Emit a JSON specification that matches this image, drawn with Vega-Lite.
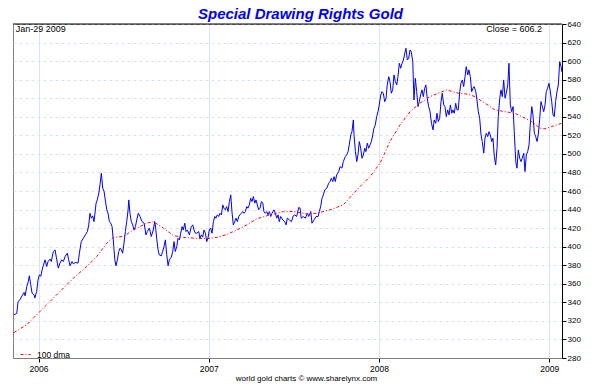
{
"$schema": "https://vega.github.io/schema/vega-lite/v6.json",
"width": 549, "height": 334,
"autosize": {"type": "none"},
"padding": {"left": 13, "top": 24, "right": 38, "bottom": 32},
"background": "white",
"title": {"text": "Special Drawing Rights Gold", "font": "Liberation Sans", "fontSize": 15, "fontWeight": "bold", "fontStyle": "italic", "color": "#0000ff", "anchor": "middle", "frame": "group", "dx": 13, "dy": 17, "offset": 3, "baseline": "alphabetic"},
"config": {"view": {"stroke": "#808080", "strokeWidth": 1}, "font": "Liberation Sans", "axis": {"labelOverlap": false}},
"datasets": {
"gold": [
{"t":2005.856,"v":326.6},{"t":2005.872,"v":328},{"t":2005.880,"v":341},{"t":2005.891,"v":342.7},{"t":2005.903,"v":347},{"t":2005.915,"v":350.6},{"t":2005.921,"v":347},{"t":2005.931,"v":357},{"t":2005.940,"v":362.5},{"t":2005.946,"v":368.6},{"t":2005.954,"v":359},{"t":2005.962,"v":350},{"t":2005.974,"v":348},{"t":2005.978,"v":344.6},{"t":2005.989,"v":351.7},{"t":2005.997,"v":364},{"t":2006.005,"v":369.7},{"t":2006.013,"v":368},{"t":2006.021,"v":375},{"t":2006.028,"v":379.4},{"t":2006.038,"v":385.8},{"t":2006.048,"v":378.6},{"t":2006.056,"v":384},{"t":2006.068,"v":386.6},{"t":2006.075,"v":384},{"t":2006.087,"v":394.8},{"t":2006.097,"v":396.6},{"t":2006.107,"v":385.8},{"t":2006.116,"v":376.9},{"t":2006.126,"v":382.3},{"t":2006.136,"v":385.8},{"t":2006.146,"v":384},{"t":2006.156,"v":389.4},{"t":2006.169,"v":393},{"t":2006.177,"v":385.8},{"t":2006.185,"v":379.4},{"t":2006.197,"v":384},{"t":2006.204,"v":381.5},{"t":2006.216,"v":383},{"t":2006.232,"v":382.3},{"t":2006.240,"v":393},{"t":2006.251,"v":405.5},{"t":2006.263,"v":409},{"t":2006.275,"v":412.7},{"t":2006.287,"v":416.3},{"t":2006.295,"v":423.5},{"t":2006.302,"v":436},{"t":2006.310,"v":430.7},{"t":2006.318,"v":433.2},{"t":2006.326,"v":427},{"t":2006.338,"v":446.9},{"t":2006.345,"v":450.4},{"t":2006.354,"v":457.7},{"t":2006.361,"v":466.6},{"t":2006.369,"v":479.2},{"t":2006.377,"v":463},{"t":2006.385,"v":459.4},{"t":2006.392,"v":450.4},{"t":2006.401,"v":439.7},{"t":2006.408,"v":436},{"t":2006.416,"v":427},{"t":2006.424,"v":425.3},{"t":2006.432,"v":421.6},{"t":2006.439,"v":407.3},{"t":2006.448,"v":385.8},{"t":2006.455,"v":379.4},{"t":2006.463,"v":385.8},{"t":2006.471,"v":394.8},{"t":2006.479,"v":398.4},{"t":2006.486,"v":396.6},{"t":2006.494,"v":393},{"t":2006.502,"v":403.8},{"t":2006.510,"v":416.3},{"t":2006.518,"v":427},{"t":2006.526,"v":439.7},{"t":2006.530,"v":450.4},{"t":2006.537,"v":436},{"t":2006.545,"v":427},{"t":2006.553,"v":423.5},{"t":2006.561,"v":418},{"t":2006.569,"v":421.6},{"t":2006.577,"v":428.9},{"t":2006.586,"v":436},{"t":2006.596,"v":432.5},{"t":2006.608,"v":427},{"t":2006.620,"v":425.3},{"t":2006.631,"v":412.7},{"t":2006.639,"v":416.3},{"t":2006.651,"v":420},{"t":2006.662,"v":411},{"t":2006.674,"v":418},{"t":2006.682,"v":427},{"t":2006.686,"v":423.5},{"t":2006.694,"v":409},{"t":2006.702,"v":396.6},{"t":2006.709,"v":391.2},{"t":2006.721,"v":390.1},{"t":2006.729,"v":394.8},{"t":2006.737,"v":400.2},{"t":2006.745,"v":407.3},{"t":2006.753,"v":391.2},{"t":2006.761,"v":379.4},{"t":2006.768,"v":385.8},{"t":2006.780,"v":388.7},{"t":2006.788,"v":394.8},{"t":2006.796,"v":405.5},{"t":2006.803,"v":394.8},{"t":2006.812,"v":400.2},{"t":2006.819,"v":409},{"t":2006.827,"v":407.3},{"t":2006.835,"v":414.5},{"t":2006.843,"v":421.6},{"t":2006.850,"v":418},{"t":2006.859,"v":425.3},{"t":2006.866,"v":416.3},{"t":2006.874,"v":418},{"t":2006.886,"v":412.7},{"t":2006.897,"v":421.6},{"t":2006.906,"v":423.5},{"t":2006.913,"v":418},{"t":2006.921,"v":414.5},{"t":2006.929,"v":414.5},{"t":2006.941,"v":416.3},{"t":2006.948,"v":409},{"t":2006.956,"v":412.7},{"t":2006.964,"v":410.2},{"t":2006.972,"v":418},{"t":2006.980,"v":414.5},{"t":2006.988,"v":405.5},{"t":2006.995,"v":409},{"t":2007.003,"v":418},{"t":2007.011,"v":420},{"t":2007.019,"v":414.5},{"t":2007.027,"v":427},{"t":2007.035,"v":432.5},{"t":2007.042,"v":430.7},{"t":2007.050,"v":434.3},{"t":2007.058,"v":432.5},{"t":2007.066,"v":436},{"t":2007.074,"v":434.3},{"t":2007.082,"v":445},{"t":2007.089,"v":441.5},{"t":2007.097,"v":439.7},{"t":2007.105,"v":443.2},{"t":2007.113,"v":437.8},{"t":2007.121,"v":448.6},{"t":2007.129,"v":455.8},{"t":2007.136,"v":437.8},{"t":2007.144,"v":423.5},{"t":2007.152,"v":427},{"t":2007.160,"v":430.7},{"t":2007.168,"v":427},{"t":2007.176,"v":432.5},{"t":2007.183,"v":434.3},{"t":2007.191,"v":436},{"t":2007.199,"v":437.8},{"t":2007.207,"v":436},{"t":2007.215,"v":437.8},{"t":2007.223,"v":443.2},{"t":2007.230,"v":441.5},{"t":2007.238,"v":445},{"t":2007.246,"v":452.2},{"t":2007.254,"v":448.6},{"t":2007.262,"v":454},{"t":2007.270,"v":446.9},{"t":2007.277,"v":450.4},{"t":2007.285,"v":445},{"t":2007.293,"v":439.7},{"t":2007.301,"v":441.5},{"t":2007.309,"v":448.6},{"t":2007.317,"v":446.9},{"t":2007.324,"v":437.8},{"t":2007.332,"v":436},{"t":2007.340,"v":437.8},{"t":2007.348,"v":434.3},{"t":2007.356,"v":437.8},{"t":2007.364,"v":432.5},{"t":2007.371,"v":436},{"t":2007.383,"v":439.7},{"t":2007.391,"v":436},{"t":2007.399,"v":430.7},{"t":2007.407,"v":434.3},{"t":2007.414,"v":427},{"t":2007.422,"v":432.5},{"t":2007.434,"v":428.9},{"t":2007.446,"v":427},{"t":2007.454,"v":423.5},{"t":2007.461,"v":430.7},{"t":2007.473,"v":428.9},{"t":2007.485,"v":427},{"t":2007.496,"v":433.2},{"t":2007.505,"v":434.3},{"t":2007.516,"v":432.5},{"t":2007.528,"v":442.2},{"t":2007.536,"v":441.5},{"t":2007.543,"v":430.7},{"t":2007.555,"v":432.5},{"t":2007.567,"v":430.7},{"t":2007.579,"v":436},{"t":2007.587,"v":432.5},{"t":2007.599,"v":437.8},{"t":2007.606,"v":425.3},{"t":2007.618,"v":428.9},{"t":2007.630,"v":432.5},{"t":2007.642,"v":432.5},{"t":2007.649,"v":437.8},{"t":2007.657,"v":443.2},{"t":2007.665,"v":452.2},{"t":2007.673,"v":455.8},{"t":2007.681,"v":461.2},{"t":2007.693,"v":463},{"t":2007.704,"v":468.4},{"t":2007.712,"v":470.2},{"t":2007.720,"v":473.8},{"t":2007.728,"v":470.2},{"t":2007.736,"v":475.5},{"t":2007.743,"v":470.2},{"t":2007.751,"v":477.3},{"t":2007.763,"v":480.9},{"t":2007.771,"v":486.3},{"t":2007.782,"v":484.6},{"t":2007.790,"v":491.7},{"t":2007.802,"v":497.1},{"t":2007.810,"v":498.9},{"t":2007.818,"v":502.5},{"t":2007.825,"v":509.7},{"t":2007.834,"v":520.4},{"t":2007.841,"v":524},{"t":2007.849,"v":536.6},{"t":2007.853,"v":520.4},{"t":2007.861,"v":502.5},{"t":2007.869,"v":491.7},{"t":2007.876,"v":498.9},{"t":2007.884,"v":513.3},{"t":2007.892,"v":506.1},{"t":2007.900,"v":495.3},{"t":2007.908,"v":498.9},{"t":2007.916,"v":506.1},{"t":2007.923,"v":502.5},{"t":2007.931,"v":511.5},{"t":2007.939,"v":506.1},{"t":2007.947,"v":509.7},{"t":2007.955,"v":513.3},{"t":2007.963,"v":520.4},{"t":2007.970,"v":527.7},{"t":2007.978,"v":531.2},{"t":2007.986,"v":540.2},{"t":2007.994,"v":545.5},{"t":2008.001,"v":552.8},{"t":2008.010,"v":563.5},{"t":2008.017,"v":567.1},{"t":2008.025,"v":565.4},{"t":2008.033,"v":556.3},{"t":2008.041,"v":560},{"t":2008.048,"v":574.3},{"t":2008.057,"v":583.2},{"t":2008.064,"v":577.9},{"t":2008.072,"v":565.4},{"t":2008.080,"v":569},{"t":2008.088,"v":585.1},{"t":2008.096,"v":577.9},{"t":2008.104,"v":574.3},{"t":2008.111,"v":583.2},{"t":2008.119,"v":597.7},{"t":2008.127,"v":592.3},{"t":2008.135,"v":597.7},{"t":2008.143,"v":601.2},{"t":2008.151,"v":608.4},{"t":2008.158,"v":613.8},{"t":2008.166,"v":601.2},{"t":2008.174,"v":603.1},{"t":2008.182,"v":612},{"t":2008.189,"v":610.2},{"t":2008.198,"v":599.4},{"t":2008.205,"v":558.1},{"t":2008.213,"v":581.5},{"t":2008.221,"v":567.1},{"t":2008.229,"v":551},{"t":2008.236,"v":556.3},{"t":2008.244,"v":563.5},{"t":2008.252,"v":569},{"t":2008.260,"v":561.7},{"t":2008.268,"v":570.7},{"t":2008.275,"v":574.3},{"t":2008.283,"v":560},{"t":2008.291,"v":551},{"t":2008.299,"v":546},{"t":2008.308,"v":533},{"t":2008.317,"v":525.8},{"t":2008.324,"v":536.6},{"t":2008.333,"v":533},{"t":2008.340,"v":543.8},{"t":2008.348,"v":534.8},{"t":2008.356,"v":538.4},{"t":2008.364,"v":556.3},{"t":2008.371,"v":565.4},{"t":2008.380,"v":552.8},{"t":2008.387,"v":551},{"t":2008.395,"v":540.2},{"t":2008.403,"v":547.4},{"t":2008.411,"v":542},{"t":2008.419,"v":552.8},{"t":2008.427,"v":543.8},{"t":2008.434,"v":547.4},{"t":2008.442,"v":543.8},{"t":2008.450,"v":554.6},{"t":2008.458,"v":547.4},{"t":2008.465,"v":547.4},{"t":2008.474,"v":567.1},{"t":2008.481,"v":576.1},{"t":2008.489,"v":579.7},{"t":2008.497,"v":572.5},{"t":2008.505,"v":583.2},{"t":2008.512,"v":594},{"t":2008.521,"v":585.1},{"t":2008.528,"v":590.5},{"t":2008.536,"v":583.2},{"t":2008.544,"v":567.1},{"t":2008.552,"v":570.7},{"t":2008.559,"v":572.5},{"t":2008.568,"v":567.1},{"t":2008.575,"v":558.1},{"t":2008.583,"v":545.5},{"t":2008.591,"v":538.4},{"t":2008.599,"v":520.4},{"t":2008.606,"v":513.3},{"t":2008.615,"v":500.8},{"t":2008.622,"v":516.9},{"t":2008.630,"v":522.3},{"t":2008.638,"v":518.6},{"t":2008.646,"v":524},{"t":2008.653,"v":520.4},{"t":2008.662,"v":513.3},{"t":2008.669,"v":516.9},{"t":2008.677,"v":497.1},{"t":2008.685,"v":488.1},{"t":2008.693,"v":506.1},{"t":2008.700,"v":540.2},{"t":2008.709,"v":560},{"t":2008.716,"v":569},{"t":2008.724,"v":561.7},{"t":2008.732,"v":579.7},{"t":2008.740,"v":560},{"t":2008.747,"v":565.4},{"t":2008.756,"v":574.3},{"t":2008.763,"v":597.7},{"t":2008.771,"v":552.8},{"t":2008.779,"v":545.5},{"t":2008.787,"v":551},{"t":2008.794,"v":524},{"t":2008.803,"v":491.7},{"t":2008.810,"v":484.6},{"t":2008.818,"v":504.3},{"t":2008.826,"v":495.3},{"t":2008.834,"v":491.7},{"t":2008.841,"v":495.3},{"t":2008.850,"v":500.8},{"t":2008.857,"v":481},{"t":2008.865,"v":498.9},{"t":2008.873,"v":502.5},{"t":2008.881,"v":509.7},{"t":2008.888,"v":531.2},{"t":2008.897,"v":551},{"t":2008.904,"v":542},{"t":2008.912,"v":522.3},{"t":2008.920,"v":518.6},{"t":2008.928,"v":513.3},{"t":2008.935,"v":520.4},{"t":2008.943,"v":536.6},{"t":2008.951,"v":556.3},{"t":2008.959,"v":551},{"t":2008.967,"v":545.5},{"t":2008.975,"v":552.8},{"t":2008.982,"v":567.1},{"t":2008.990,"v":570.7},{"t":2008.998,"v":576.1},{"t":2009.006,"v":567.1},{"t":2009.014,"v":556.3},{"t":2009.022,"v":542},{"t":2009.029,"v":540.2},{"t":2009.037,"v":556.3},{"t":2009.045,"v":567.1},{"t":2009.053,"v":574.3},{"t":2009.061,"v":599.4},{"t":2009.069,"v":594},{"t":2009.073,"v":588.6}
],
"dma": [
{"t":2005.856,"v":307.5},{"t":2005.931,"v":315.8},{"t":2005.989,"v":326.6},{"t":2006.048,"v":337.4},{"t":2006.126,"v":351.7},{"t":2006.204,"v":366},{"t":2006.283,"v":378.6},{"t":2006.342,"v":389.4},{"t":2006.401,"v":403.8},{"t":2006.439,"v":409.9},{"t":2006.498,"v":411},{"t":2006.557,"v":418},{"t":2006.635,"v":425.3},{"t":2006.674,"v":427},{"t":2006.733,"v":420},{"t":2006.792,"v":412},{"t":2006.850,"v":410},{"t":2006.929,"v":409},{"t":2006.988,"v":408.5},{"t":2007.047,"v":410},{"t":2007.105,"v":413},{"t":2007.164,"v":418},{"t":2007.223,"v":423.5},{"t":2007.281,"v":430},{"t":2007.359,"v":434.3},{"t":2007.438,"v":437.8},{"t":2007.496,"v":437.8},{"t":2007.575,"v":435.4},{"t":2007.634,"v":436},{"t":2007.712,"v":439.7},{"t":2007.790,"v":445},{"t":2007.869,"v":461.2},{"t":2007.947,"v":475.5},{"t":2008.006,"v":490},{"t":2008.064,"v":513.3},{"t":2008.123,"v":531.2},{"t":2008.182,"v":545.5},{"t":2008.240,"v":554.6},{"t":2008.299,"v":561.7},{"t":2008.348,"v":565.4},{"t":2008.397,"v":569},{"t":2008.465,"v":565.4},{"t":2008.524,"v":564.3},{"t":2008.563,"v":561.7},{"t":2008.622,"v":554.6},{"t":2008.681,"v":547.4},{"t":2008.740,"v":545.5},{"t":2008.798,"v":543.8},{"t":2008.838,"v":540.2},{"t":2008.897,"v":534.8},{"t":2008.945,"v":527.7},{"t":2008.975,"v":527},{"t":2009.014,"v":529.5},{"t":2009.073,"v":533}
]
},
"layer": [
{
"data": {"name": "gold"},
"mark": {"type": "line", "color": "#0000ff", "strokeWidth": 1},
"encoding": {
"x": {"field": "t", "type": "quantitative", "scale": {"domain": [2005.85, 2009.0745], "nice": false, "zero": false},
"axis": {"values": [2006, 2007, 2008, 2009], "tickCount": 10, "format": "d", "title": "world gold charts © www.sharelynx.com", "titleFont": "Liberation Sans", "titleFontSize": 8, "titleFontWeight": "normal", "titleColor": "#000", "titleX": 293, "titlePadding": 2, "labelFont": "Liberation Sans", "labelFontSize": 8.5, "labelColor": "#000", "labelPadding": 2, "tickSize": 4, "tickColor": "#000", "domainColor": "#808080", "gridColor": "#d8e2f8", "gridWidth": 1, "labelFlush": false, "labelOverlap": false}},
"y": {"field": "v", "type": "quantitative", "scale": {"domain": [280, 640], "nice": false, "zero": false},
"axis": {"orient": "right", "values": [280,300,320,340,360,380,400,420,440,460,480,500,520,540,560,580,600,620,640], "tickCount": 40, "title": null, "tickSize": 4, "tickColor": "#000", "domainColor": "#000", "labelPadding": 1, "labelFont": "Liberation Sans", "labelFontSize": 8, "labelColor": "#000", "labelOverlap": false, "labelFlush": false, "gridColor": "#d8e3f6", "gridDash": [3, 3]}}
}
},
{
"data": {"name": "dma"},
"mark": {"type": "line", "strokeWidth": 1, "strokeDash": [3, 2, 1, 2]},
"encoding": {
"x": {"field": "t", "type": "quantitative"},
"y": {"field": "v", "type": "quantitative"},
"color": {"datum": "100 dma", "type": "nominal", "scale": {"range": ["#ff0000"]},
"legend": {"orient": "none", "legendX": 7, "legendY": 325, "title": null, "symbolType": "stroke", "symbolDash": [3, 2, 1, 2], "symbolStrokeWidth": 1, "symbolSize": 100, "labelFont": "Liberation Sans", "labelFontSize": 8.5, "labelOffset": 6, "padding": 0, "labelColor": "#000"}}
}
},
{
"data": {"values": [{}]},
"mark": {"type": "rule", "color": "#000", "strokeWidth": 1},
"encoding": {"y": {"datum": 640}}
},
{
"data": {"values": [{}]},
"mark": {"type": "text", "text": "Jan-29 2009", "align": "left", "baseline": "alphabetic", "font": "Liberation Sans", "fontSize": 9, "dy": 8, "color": "#000"},
"encoding": {"x": {"datum": 2005.866}, "y": {"datum": 640}}
},
{
"data": {"values": [{}]},
"mark": {"type": "text", "text": "Close = 606.2", "align": "right", "baseline": "alphabetic", "font": "Liberation Sans", "fontSize": 9, "dy": 8, "color": "#000"},
"encoding": {"x": {"datum": 2008.957}, "y": {"datum": 640}}
}
]
}
